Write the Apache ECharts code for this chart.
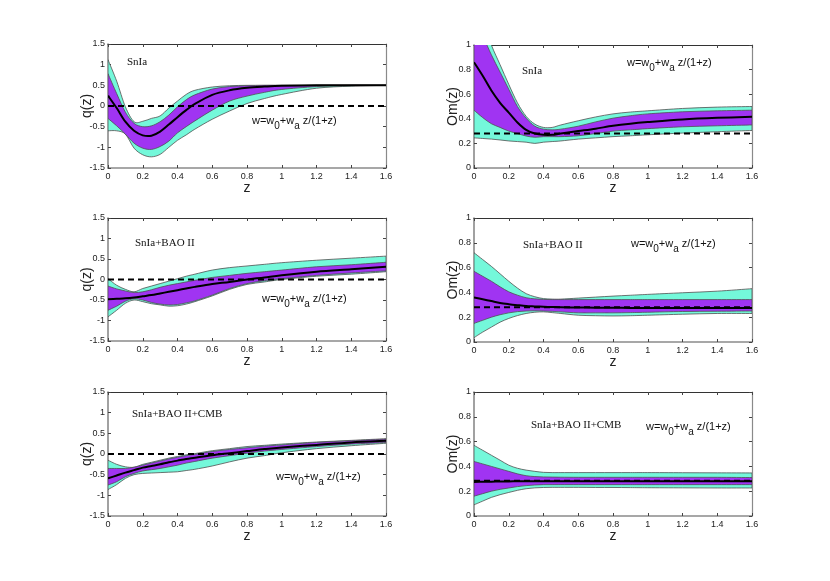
<!DOCTYPE html>
<html><head><meta charset="utf-8">
<script src="https://cdn.jsdelivr.net/npm/echarts@6/dist/echarts.min.js"></script>
<style>html,body{margin:0;padding:0;background:#fff}#c{width:830px;height:581px}</style>
</head><body><div id="c"></div>
<script>
// redshift grid
const Z = [0, 0.05, 0.1, 0.15, 0.2, 0.25, 0.3, 0.35, 0.4, 0.45, 0.5, 0.6, 0.7, 0.8, 0.9, 1.0, 1.2, 1.4, 1.6];

// Panel 1: q(z), SnIa
const p1Mid = [0.25, -0.05, -0.38, -0.6, -0.71, -0.72, -0.62, -0.45, -0.27, -0.1, 0.05, 0.27, 0.38, 0.44, 0.47, 0.49, 0.5, 0.5, 0.5];
const p1Up1 = [0.78, 0.3, -0.15, -0.42, -0.5, -0.48, -0.38, -0.22, -0.02, 0.15, 0.27, 0.41, 0.47, 0.49, 0.5, 0.5, 0.5, 0.5, 0.5];
const p1Up2 = [1.12, 0.6, -0.02, -0.38, -0.37, -0.3, -0.24, -0.05, 0.12, 0.28, 0.38, 0.46, 0.49, 0.5, 0.5, 0.5, 0.5, 0.5, 0.5];
const p1Lo1 = [-0.3, -0.48, -0.68, -0.9, -1.02, -1.05, -0.98, -0.85, -0.65, -0.5, -0.36, -0.1, 0.12, 0.24, 0.33, 0.4, 0.47, 0.5, 0.5];
const p1Lo2 = [-0.6, -0.6, -0.68, -1.02, -1.18, -1.23, -1.17, -1.0, -0.83, -0.7, -0.56, -0.32, -0.12, 0.06, 0.18, 0.28, 0.43, 0.48, 0.5];

// Panel 2: Om(z), SnIa
const p2Mid = [0.86, 0.75, 0.63, 0.53, 0.45, 0.37, 0.31, 0.28, 0.27, 0.27, 0.28, 0.3, 0.32, 0.343, 0.36, 0.373, 0.395, 0.408, 0.416];
const p2Up1 = [1.25, 1.08, 0.92, 0.78, 0.64, 0.5, 0.405, 0.34, 0.316, 0.31, 0.316, 0.34, 0.375, 0.405, 0.425, 0.44, 0.457, 0.465, 0.47];
const p2Up2 = [1.45, 1.2, 1.0, 0.84, 0.68, 0.53, 0.42, 0.357, 0.33, 0.33, 0.35, 0.384, 0.415, 0.44, 0.455, 0.465, 0.484, 0.495, 0.5];
const p2Lo1 = [0.47, 0.41, 0.36, 0.33, 0.3, 0.28, 0.26, 0.25, 0.255, 0.255, 0.255, 0.262, 0.28, 0.3, 0.31, 0.32, 0.335, 0.343, 0.35];
const p2Lo2 = [0.245, 0.24, 0.235, 0.228, 0.22, 0.215, 0.21, 0.2, 0.21, 0.215, 0.22, 0.235, 0.245, 0.255, 0.262, 0.27, 0.284, 0.295, 0.305];

// Panel 3: q(z), SnIa+BAO II
const p3Mid = [-0.48, -0.47, -0.46, -0.44, -0.41, -0.38, -0.34, -0.3, -0.26, -0.22, -0.18, -0.11, -0.06, 0.0, 0.05, 0.105, 0.19, 0.25, 0.31];
const p3Up1 = [-0.16, -0.23, -0.28, -0.32, -0.3, -0.25, -0.19, -0.14, -0.1, -0.06, -0.02, 0.05, 0.1, 0.15, 0.19, 0.23, 0.31, 0.36, 0.42];
const p3Up2 = [0.02, -0.14, -0.24, -0.3, -0.22, -0.16, -0.1, -0.04, 0.02, 0.08, 0.13, 0.23, 0.29, 0.33, 0.37, 0.41, 0.47, 0.52, 0.57];
const p3Lo1 = [-0.75, -0.65, -0.53, -0.47, -0.5, -0.56, -0.6, -0.62, -0.61, -0.57, -0.52, -0.38, -0.22, -0.1, -0.03, 0.02, 0.1, 0.16, 0.21];
const p3Lo2 = [-0.91, -0.75, -0.58, -0.5, -0.54, -0.59, -0.62, -0.65, -0.64, -0.6, -0.54, -0.4, -0.24, -0.12, -0.06, 0.0, 0.08, 0.13, 0.19];

// Panel 4: Om(z), SnIa+BAO II
const p4Mid = [0.36, 0.345, 0.33, 0.315, 0.305, 0.297, 0.29, 0.287, 0.284, 0.282, 0.28, 0.278, 0.277, 0.276, 0.275, 0.275, 0.275, 0.275, 0.275];
const p4Up1 = [0.57, 0.53, 0.49, 0.445, 0.405, 0.378, 0.357, 0.348, 0.343, 0.342, 0.342, 0.342, 0.342, 0.342, 0.342, 0.342, 0.342, 0.342, 0.342];
const p4Up2 = [0.72, 0.665, 0.61, 0.55, 0.49, 0.435, 0.39, 0.365, 0.35, 0.346, 0.346, 0.354, 0.362, 0.37, 0.377, 0.384, 0.397, 0.41, 0.43];
const p4Lo1 = [0.15, 0.175, 0.2, 0.22, 0.235, 0.245, 0.25, 0.252, 0.25, 0.247, 0.243, 0.235, 0.235, 0.235, 0.237, 0.24, 0.246, 0.248, 0.25];
const p4Lo2 = [0.035, 0.08, 0.12, 0.16, 0.19, 0.213, 0.23, 0.24, 0.243, 0.237, 0.23, 0.216, 0.212, 0.21, 0.212, 0.216, 0.224, 0.23, 0.23];

// Panel 5: q(z), SnIa+BAO II+CMB
const p5Mid = [-0.59, -0.52, -0.45, -0.39, -0.33, -0.29, -0.25, -0.2, -0.16, -0.12, -0.09, -0.03, 0.02, 0.07, 0.12, 0.16, 0.22, 0.28, 0.32];
const p5Up1 = [-0.35, -0.35, -0.35, -0.32, -0.27, -0.22, -0.17, -0.12, -0.08, -0.04, -0.01, 0.06, 0.11, 0.15, 0.19, 0.22, 0.28, 0.32, 0.36];
const p5Up2 = [-0.15, -0.25, -0.31, -0.32, -0.25, -0.2, -0.15, -0.1, -0.06, -0.02, 0.01, 0.08, 0.13, 0.18, 0.21, 0.24, 0.29, 0.33, 0.37];
const p5Lo1 = [-0.75, -0.67, -0.55, -0.47, -0.41, -0.38, -0.35, -0.31, -0.27, -0.22, -0.18, -0.1, -0.04, 0.02, 0.07, 0.11, 0.18, 0.24, 0.28];
const p5Lo2 = [-0.86, -0.74, -0.59, -0.5, -0.47, -0.46, -0.45, -0.44, -0.43, -0.4, -0.37, -0.29, -0.19, -0.1, -0.04, 0.03, 0.13, 0.2, 0.26];

// Panel 6: Om(z), SnIa+BAO II+CMB
const p6Mid = [0.275, 0.276, 0.277, 0.278, 0.279, 0.28, 0.28, 0.28, 0.28, 0.28, 0.28, 0.28, 0.28, 0.28, 0.28, 0.28, 0.28, 0.28, 0.28];
const p6Up1 = [0.44, 0.42, 0.4, 0.38, 0.36, 0.34, 0.325, 0.318, 0.315, 0.314, 0.313, 0.312, 0.312, 0.312, 0.312, 0.312, 0.312, 0.312, 0.31];
const p6Up2 = [0.57, 0.53, 0.49, 0.45, 0.41, 0.385, 0.37, 0.36, 0.352, 0.35, 0.35, 0.35, 0.35, 0.35, 0.35, 0.35, 0.349, 0.348, 0.347];
const p6Lo1 = [0.16, 0.18, 0.2, 0.215, 0.226, 0.237, 0.245, 0.25, 0.253, 0.253, 0.253, 0.253, 0.253, 0.253, 0.253, 0.253, 0.253, 0.253, 0.253];
const p6Lo2 = [0.09, 0.12, 0.15, 0.172, 0.19, 0.207, 0.22, 0.227, 0.23, 0.231, 0.231, 0.231, 0.23, 0.23, 0.229, 0.228, 0.227, 0.226, 0.226];

// reference (dashed) levels
const refLevels = [0, 0.28, 0, 0.28, 0, 0.285];
const refZ = [0, 1.6];

// texts
const panelLabels = ['SnIa', 'SnIa', 'SnIa+BAO II', 'SnIa+BAO II', 'SnIa+BAO II+CMB', 'SnIa+BAO II+CMB'];
const yNames = ['q(z)', 'Om(z)', 'q(z)', 'Om(z)', 'q(z)', 'Om(z)'];
const xName = 'z';
const qRange = [-1.5, 1.5, 0.5];
const omRange = [0, 1, 0.2];
const zRange = [0, 1.6, 0.2];

const panels = [
  {mid: p1Mid, up1: p1Up1, up2: p1Up2, lo1: p1Lo1, lo2: p1Lo2, y: qRange},
  {mid: p2Mid, up1: p2Up1, up2: p2Up2, lo1: p2Lo1, lo2: p2Lo2, y: omRange},
  {mid: p3Mid, up1: p3Up1, up2: p3Up2, lo1: p3Lo1, lo2: p3Lo2, y: qRange},
  {mid: p4Mid, up1: p4Up1, up2: p4Up2, lo1: p4Lo1, lo2: p4Lo2, y: omRange},
  {mid: p5Mid, up1: p5Up1, up2: p5Up2, lo1: p5Lo1, lo2: p5Lo2, y: qRange},
  {mid: p6Mid, up1: p6Up1, up2: p6Up2, lo1: p6Lo1, lo2: p6Lo2, y: omRange}
];

const grids = [
  {left: 108, top: 44, width: 278, height: 124},
  {left: 474, top: 45, width: 278, height: 123},
  {left: 108, top: 218, width: 278, height: 123},
  {left: 474, top: 218, width: 278, height: 124},
  {left: 108, top: 392, width: 278, height: 124},
  {left: 474, top: 392, width: 278, height: 124}
];
const yNameGaps = [14, 14, 14, 14, 14, 14];
const labelPos = [[127, 57], [522, 66], [135, 238], [523, 240], [132, 409], [531, 420]];
const formulaPos = [[252, 115], [627, 57], [262, 293], [631, 238], [276, 471], [646, 421]];

const PURPLE = '#a034f2';
const CYAN = '#74f8da';
const EDGE = '#505050';
const FONT = 'Liberation Sans, Arial, sans-serif';

// Catmull-Rom -> cubic bezier path through pixel points (rendering only)
function curveCmds(pts, first) {
  let d = first ? 'M' + pts[0][0] + ',' + pts[0][1] : 'L' + pts[0][0] + ',' + pts[0][1];
  const n = pts.length;
  for (let i = 0; i < n - 1; i++) {
    const p0 = pts[Math.max(i - 1, 0)], p1 = pts[i], p2 = pts[i + 1], p3 = pts[Math.min(i + 2, n - 1)];
    const t = 0.16;
    const c1 = [p1[0] + (p2[0] - p0[0]) * t, p1[1] + (p2[1] - p0[1]) * t];
    const c2 = [p2[0] - (p3[0] - p1[0]) * t, p2[1] - (p3[1] - p1[1]) * t];
    d += 'C' + c1[0] + ',' + c1[1] + ',' + c2[0] + ',' + c2[1] + ',' + p2[0] + ',' + p2[1];
  }
  return d;
}

function bandSeries(i, lowArr, upArr, color) {
  return {
    type: 'custom', xAxisIndex: 2 * i, yAxisIndex: 2 * i, silent: true, animation: false,
    data: [[Z[0], lowArr[0]]],
    renderItem: function (params, api) {
      const up = Z.map((z, k) => api.coord([z, upArr[k]]));
      const lo = Z.map((z, k) => api.coord([z, lowArr[k]])).reverse();
      const d = curveCmds(up, true) + curveCmds(lo, false) + 'Z';
      const cs = params.coordSys;
      return {
        type: 'path',
        shape: {pathData: d},
        style: {fill: color, stroke: EDGE, lineWidth: 0.8},
        clipPath: {type: 'rect', shape: {x: cs.x, y: cs.y, width: cs.width, height: cs.height}}
      };
    }
  };
}

function lineSeries(i, arr) {
  return {
    type: 'custom', xAxisIndex: 2 * i, yAxisIndex: 2 * i, silent: true, animation: false,
    data: [[Z[0], arr[0]]],
    renderItem: function (params, api) {
      const pts = Z.map((z, k) => api.coord([z, arr[k]]));
      const cs = params.coordSys;
      return {
        type: 'path',
        shape: {pathData: curveCmds(pts, true)},
        style: {fill: null, stroke: '#000', lineWidth: 2},
        clipPath: {type: 'rect', shape: {x: cs.x, y: cs.y, width: cs.width, height: cs.height}}
      };
    }
  };
}

const xAxes = [], yAxes = [], series = [], graphics = [];
panels.forEach((p, i) => {
  const tickStyle = {inside: true, length: 3, lineStyle: {color: '#444', width: 1}};
  xAxes.push({
    gridIndex: i, type: 'value', min: zRange[0], max: zRange[1], interval: zRange[2], position: 'bottom',
    axisLine: {show: true, onZero: false, lineStyle: {color: '#8a8a8a', width: 1.6}},
    axisTick: tickStyle, splitLine: {show: false},
    axisLabel: {fontSize: 9, color: '#222', margin: 4, fontFamily: FONT},
    name: xName, nameLocation: 'middle', nameGap: 13, nameMoveOverlap: false,
    nameTextStyle: {fontSize: 14, color: '#222', fontFamily: FONT}
  });
  xAxes.push({
    gridIndex: i, type: 'value', min: zRange[0], max: zRange[1], interval: zRange[2], position: 'top',
    axisLine: {show: true, onZero: false, lineStyle: {color: '#333', width: 1}},
    axisTick: tickStyle, axisLabel: {show: false}, splitLine: {show: false}
  });
  yAxes.push({
    gridIndex: i, type: 'value', min: p.y[0], max: p.y[1], interval: p.y[2], position: 'left',
    axisLine: {show: true, onZero: false, lineStyle: {color: '#8a8a8a', width: 1.6}},
    axisTick: tickStyle, splitLine: {show: false},
    axisLabel: {fontSize: 9, color: '#222', margin: 3, fontFamily: FONT},
    name: yNames[i], nameLocation: 'middle', nameGap: yNameGaps[i], nameMoveOverlap: false,
    nameTextStyle: {fontSize: 14, color: '#222', fontFamily: FONT}
  });
  yAxes.push({
    gridIndex: i, type: 'value', min: p.y[0], max: p.y[1], interval: p.y[2], position: 'right',
    axisLine: {show: true, onZero: false, lineStyle: {color: '#8a8a8a', width: 1.2}},
    axisTick: tickStyle, axisLabel: {show: false}, splitLine: {show: false}
  });
  series.push(bandSeries(i, p.lo2, p.up2, CYAN));
  series.push(bandSeries(i, p.lo1, p.up1, PURPLE));
  series.push({
    type: 'line', xAxisIndex: 2 * i, yAxisIndex: 2 * i, symbol: 'none', silent: true, animation: false,
    data: refZ.map(z => [z, refLevels[i]]),
    lineStyle: {color: '#000', width: 2, type: [6, 4]}
  });
  series.push(lineSeries(i, p.mid));
  graphics.push({
    type: 'text', left: labelPos[i][0], top: labelPos[i][1], silent: true, z: 100,
    style: {text: panelLabels[i], fontSize: 11, fontFamily: 'Liberation Serif, Times New Roman, serif', fill: '#111'}
  });
  graphics.push({
    type: 'text', left: formulaPos[i][0], top: formulaPos[i][1], silent: true, z: 100,
    style: {
      text: '{n|w=w}{s|0}{n|+w}{s|a}{n| z/(1+z)}',
      fill: '#111',
      rich: {
        n: {fontSize: 11, fontFamily: FONT, lineHeight: 13, verticalAlign: 'top', fill: '#111'},
        s: {fontSize: 10, fontFamily: FONT, padding: [6, 0, 0, 0], verticalAlign: 'bottom', fill: '#111'}
      }
    }
  });
});

const chart = echarts.init(document.getElementById('c'));
chart.setOption({
  backgroundColor: '#fff',
  animation: false,
  grid: grids,
  xAxis: xAxes,
  yAxis: yAxes,
  series: series,
  graphic: graphics
});
</script></body></html>
